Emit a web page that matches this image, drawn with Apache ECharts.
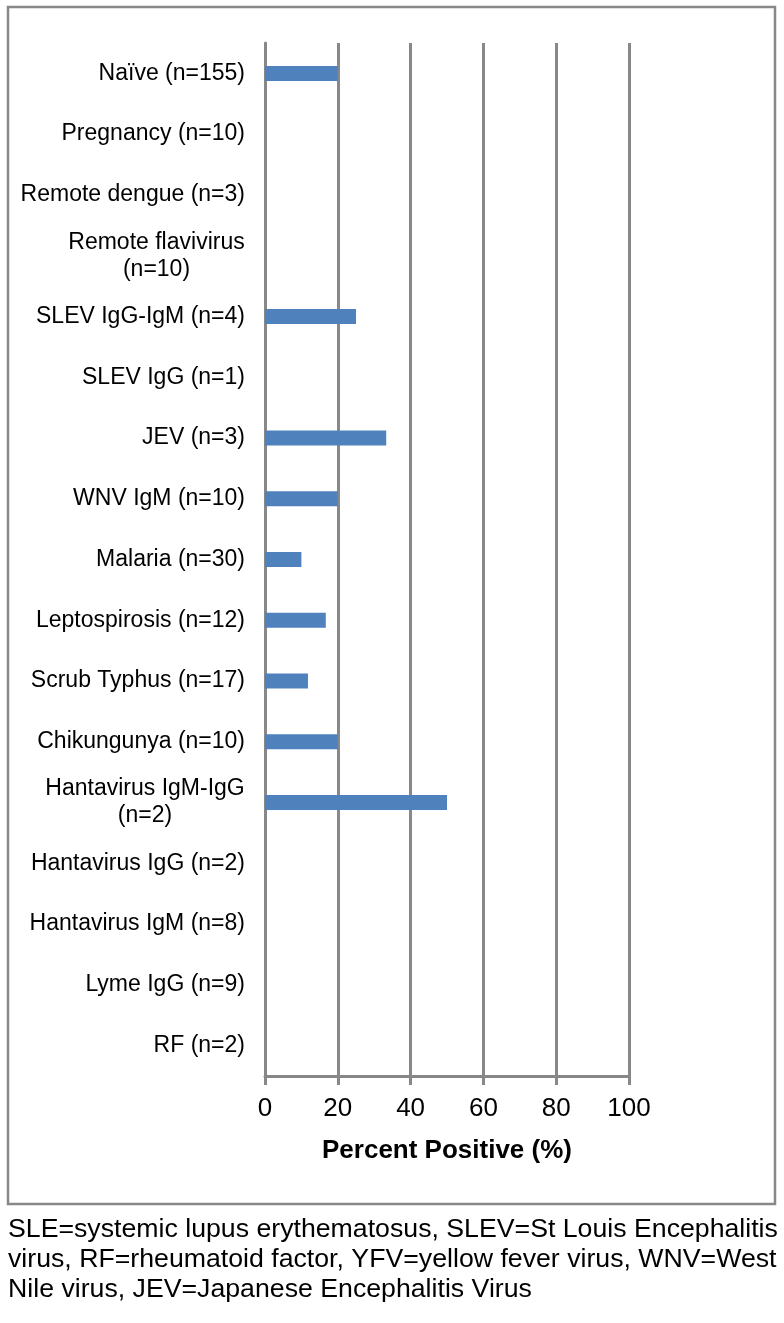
<!DOCTYPE html>
<html>
<head>
<meta charset="utf-8">
<script src="https://cdn.jsdelivr.net/npm/echarts@6/dist/echarts.min.js"></script>
<style>
html,body{margin:0;padding:0;background:#fff;}
#c{width:784px;height:1323px;}
</style>
</head>
<body>
<div id="c"></div>
<script>
const categories = [
  'Naïve (n=155)',
  'Pregnancy (n=10)',
  'Remote dengue (n=3)',
  'Remote flavivirus\n(n=10)',
  'SLEV IgG-IgM (n=4)',
  'SLEV IgG (n=1)',
  'JEV (n=3)',
  'WNV IgM (n=10)',
  'Malaria (n=30)',
  'Leptospirosis (n=12)',
  'Scrub Typhus (n=17)',
  'Chikungunya (n=10)',
  'Hantavirus IgM-IgG\n(n=2)',
  'Hantavirus IgG (n=2)',
  'Hantavirus IgM (n=8)',
  'Lyme IgG (n=9)',
  'RF (n=2)'
];
const percentPositive = [20, 0, 0, 0, 25, 0, 33.3, 20, 10, 16.7, 11.8, 20, 50, 0, 0, 0, 0];
const xTicks = [0, 20, 40, 60, 80, 100];
const axisTitle = 'Percent Positive (%)';
const captionLines = [
  'SLE=systemic lupus erythematosus, SLEV=St Louis Encephalitis',
  'virus, RF=rheumatoid factor, YFV=yellow fever virus, WNV=West',
  'Nile virus, JEV=Japanese Encephalitis Virus'
];

const FONT = '"Liberation Sans", Arial, Helvetica, sans-serif';
const LABEL_SIZE = 23;
const GRAY = '#888888';

// measure text for centering multi-line labels
const cv = document.createElement('canvas').getContext('2d');
cv.font = LABEL_SIZE + 'px ' + FONT;
const rich = {};
const labelMap = {};
categories.forEach((cat, i) => {
  if (cat.indexOf('\n') >= 0) {
    const lines = cat.split('\n');
    const w = Math.max(...lines.map(l => cv.measureText(l).width));
    const key = 'm' + i;
    rich[key] = {width: Math.ceil(w), align: 'center', fontSize: LABEL_SIZE, fontFamily: FONT, color: '#000', lineHeight: 27};
    labelMap[cat] = lines.map(l => '{' + key + '|' + l + '}').join('\n');
  }
});

const chart = echarts.init(document.getElementById('c'), null, {renderer: 'canvas'});
chart.setOption({
  backgroundColor: '#fff',
  animation: false,
  grid: {left: 265, right: 155, top: 43, bottom: 247, containLabel: false},
  xAxis: {
    type: 'value',
    min: 0, max: 100, interval: 20,
    name: axisTitle,
    nameLocation: 'middle',
    nameGap: 62,
    nameTextStyle: {fontFamily: FONT, fontSize: 26, fontWeight: 'bold', color: '#000'},
    axisLine: {show: true, lineStyle: {color: GRAY, width: 3}},
    axisTick: {show: true, length: 9, lineStyle: {color: GRAY, width: 3}},
    axisLabel: {fontFamily: FONT, fontSize: 26, color: '#000', margin: 20,
      formatter: v => xTicks.indexOf(v) >= 0 ? String(v) : ''},
    splitLine: {show: true, lineStyle: {color: GRAY, width: 3}}
  },
  yAxis: {
    type: 'category',
    data: categories,
    inverse: true,
    axisLine: {show: true, lineStyle: {color: GRAY, width: 3}},
    axisTick: {show: false},
    axisLabel: {
      fontFamily: FONT, fontSize: LABEL_SIZE, color: '#000', margin: 20, lineHeight: 27,
      interval: 0,
      formatter: v => labelMap[v] || v,
      rich: rich
    },
    splitLine: {show: false}
  },
  series: [{
    type: 'bar',
    data: percentPositive,
    barWidth: 15,
    itemStyle: {color: '#4f81bd'},
    silent: true
  }],
  graphic: [
    {type: 'rect', shape: {x: 8, y: 7, width: 767, height: 1197},
      style: {fill: 'none', stroke: GRAY, lineWidth: 2.5}, z: -1, silent: true},
    ...captionLines.map((t, i) => ({
      type: 'text', left: 8, top: 1216 + i * 30,
      style: {text: t, fontFamily: FONT, fontSize: 26.7, fill: '#000'}
    }))
  ]
});
</script>
</body>
</html>
